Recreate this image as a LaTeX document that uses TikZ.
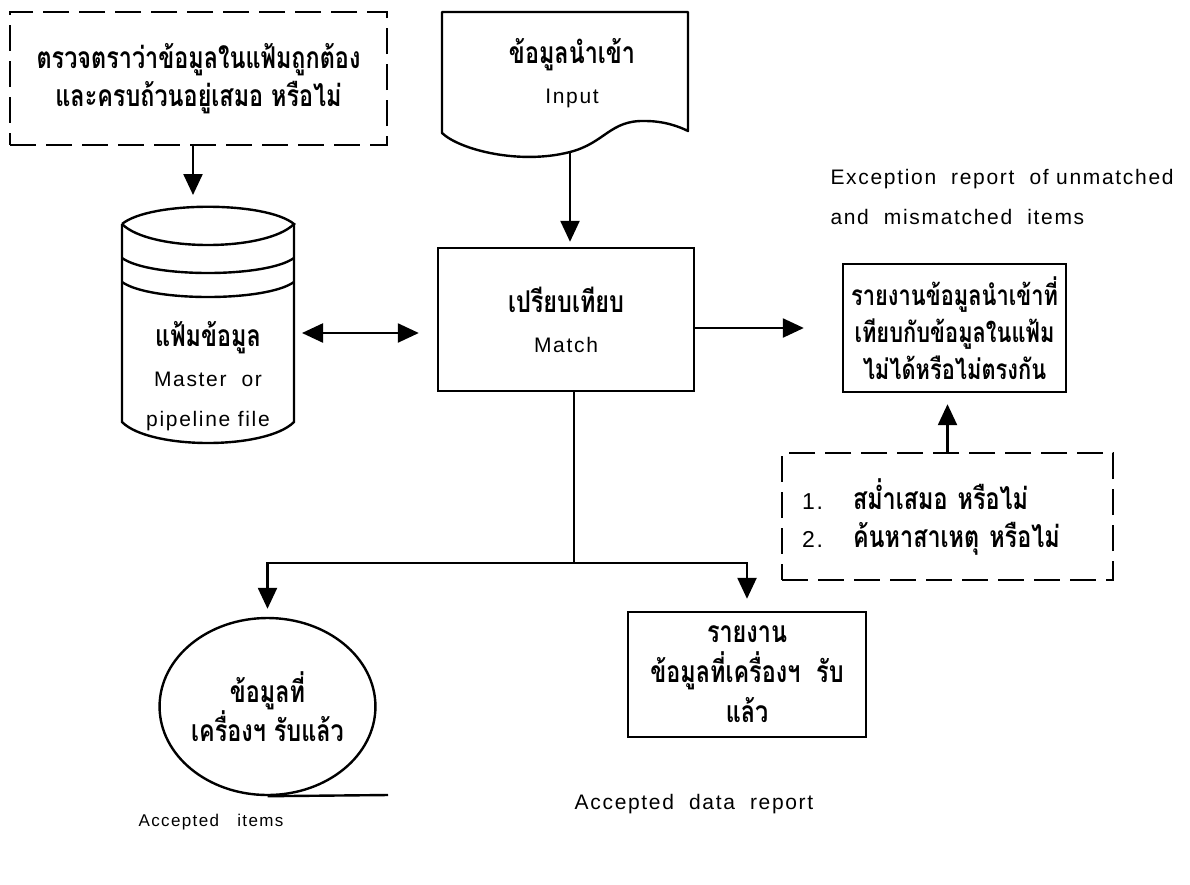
\documentclass[tikz,border=0pt]{standalone}
\usepackage{fontspec}
\setmainfont{Liberation Sans}[LetterSpace=8]
\newfontfamily\thaifont[Script=Thai,FakeStretch=0.78]{Loma}
\usetikzlibrary{arrows.meta,shapes.geometric}
\newcommand{\thline}[1]{{\thaifont\bfseries\fontsize{30}{40}\selectfont #1}}
\newcommand{\latin}[1]{{\rmfamily\mdseries\fontsize{23}{38}\selectfont #1}}
\tikzset{
  lw/.style={line width=2.4pt},
  solidbox/.style={draw, lw, rectangle, inner sep=0pt, align=center},
  dashbox/.style={draw, lw, rectangle, inner sep=0pt, dash pattern=on 26pt off 10pt},
  thtext/.style={font=\thaifont\bfseries\fontsize{30}{38}\selectfont},
  entext/.style={font=\fontsize{21}{40}\selectfont},
  flow/.style={lw, -{Triangle[length=21pt,width=19pt]}},
  twoway/.style={lw, {Triangle[length=21pt,width=19pt]}-{Triangle[length=21pt,width=19pt]}},
}
\begin{document}
\begin{tikzpicture}[x=1pt,y=-1pt]
\useasboundingbox (0,0) rectangle (1190,884);

% note above the master file
\node[dashbox, minimum width=377pt, minimum height=133pt, thtext, align=center] (tlnote) at (198.5,78.5)
  {ตรวจตราว่าข้อมูลในแฟ้มถูกต้อง\\และครบถ้วนอยู่เสมอ หรือไม่};

% master / pipeline file (stacked disk)
\draw[lw] (122,224) .. controls (150,201) and (266,201) .. (294,224)
              .. controls (266,252) and (150,252) .. (122,224);
\draw[lw] (122,224) -- (122,422) .. controls (150,450) and (266,450) .. (294,422) -- (294,224);
\draw[lw] (122,258) .. controls (150,278) and (266,278) .. (294,258);
\draw[lw] (122,282) .. controls (150,302) and (266,302) .. (294,282);
\node[entext, align=center] (cyl) at (208,376) {\thline{แฟ้มข้อมูล}\\Master\ \ or\\pipeline file};
\coordinate (cyltop) at (193,207);
\coordinate (cylright) at (294,333);

% input document
\draw[lw, line join=round] (442,133) -- (442,12) -- (688,12) -- (688,131)
  .. controls (680,127) and (665,121) .. (645,121)
  .. controls (610,120) and (605,143) .. (570,152)
  .. controls (520,165) and (460,150) .. (442,133) -- cycle;
\node[entext, align=center] (doc) at (572,73) {\thline{ข้อมูลนำเข้า}\\Input};
\coordinate (docbot) at (570,152);

% match step
\node[solidbox, minimum width=256pt, minimum height=143pt, entext] (match) at (566,319.5)
  {\thline{เปรียบเทียบ}\\Match};

% exception report
\node[entext, align=left, anchor=west] (exclabel) at (827,197)
  {Exception\ \ report\ \ of unmatched\\and\ \ mismatched\ \ items};
\node[solidbox, minimum width=223pt, minimum height=128pt, font=\thaifont\bfseries\fontsize{28}{37}\selectfont] (exc) at (954.5,328)
  {รายงานข้อมูลนำเข้าที่\\เทียบกับข้อมูลในแฟ้ม\\ไม่ได้หรือไม่ตรงกัน};

% follow-up checks
\node[dashbox, thtext, align=left, text width=291pt, inner xsep=20pt, minimum height=127pt] (chk) at (947.5,516.5)
  {\latin{1.}\quad สม่ำเสมอ หรือไม่\\\latin{2.}\quad ค้นหาสาเหตุ หรือไม่};

% accepted items
\node[draw, lw, ellipse, minimum width=205pt, minimum height=177pt, inner sep=0pt, thtext, align=center] (acc) at (267.5,706.5)
  {ข้อมูลที่\\เครื่องฯ รับแล้ว};
\coordinate (acctail) at (388,795);
\draw[lw] (acc.south) -- (acctail);

% accepted data report
\node[solidbox, minimum width=238pt, minimum height=125pt, font=\thaifont\bfseries\fontsize{30}{40}\selectfont] (rep) at (747,674.5)
  {รายงาน\\ข้อมูลที่เครื่องฯ\ \ รับ\\แล้ว};

\node[font=\fontsize{17}{20}\selectfont] (acclabel) at (211,822) {Accepted\ \ \ items};
\node[entext] (replabel) at (694,804) {Accepted\ \ data\ \ report};

% connectors
\draw[flow, shorten >=12pt] (tlnote.south -| cyltop) -- (cyltop);
\draw[flow, shorten >=5pt] (docbot) -- (docbot |- match.north);
\draw[twoway, shorten <=8pt, shorten >=18pt] (cylright) -- (cylright -| match.west);
\draw[flow, shorten >=38pt] (exc.west -| match.east) -- (exc.west);
\draw[flow, shorten >=11pt] (chk.north) -- (chk.north |- exc.south);
\coordinate (split) at (574,563);
\draw[lw] (match.south -| split) -- (split);
\draw[flow, shorten >=8pt] (split) -| (acc.north);
\draw[flow, shorten >=12pt] (split) -| (rep.north);
\end{tikzpicture}
\end{document}
